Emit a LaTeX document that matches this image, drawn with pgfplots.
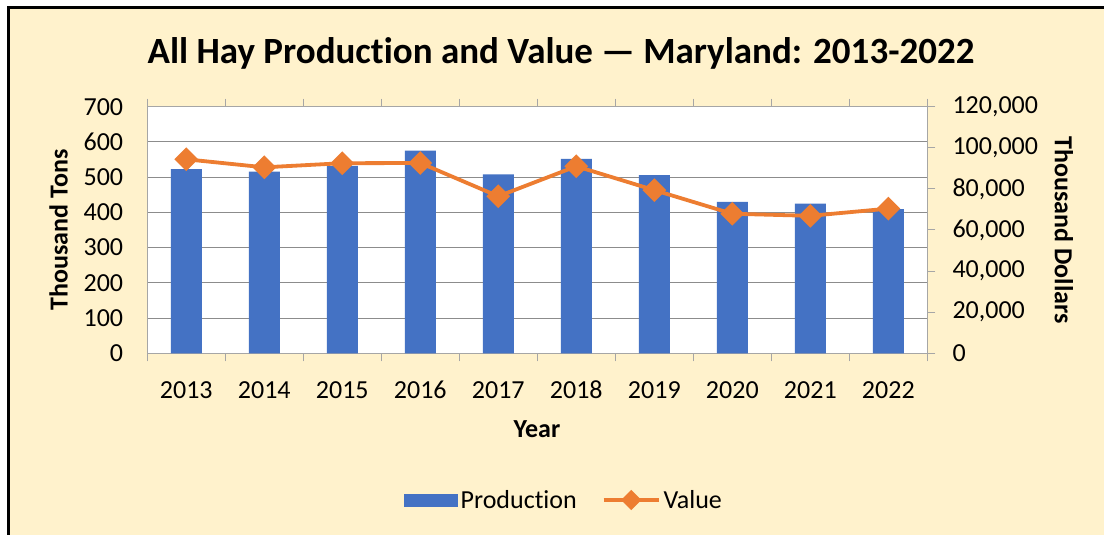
\documentclass[border=0pt]{standalone}
\usepackage{fontspec}
\setmainfont{Carlito}[Ligatures=NoCommon]
\usepackage{pgfplots}
\pgfplotsset{compat=1.18}
\definecolor{cream}{HTML}{FFF2CC}
\definecolor{barblue}{HTML}{4472C4}
\definecolor{valorange}{HTML}{ED7D31}
\definecolor{gridgray}{HTML}{8C8C8C}
\definecolor{axisgray}{HTML}{A6A6A6}
\newcommand{\lblfont}{\fontsize{26bp}{31bp}\selectfont}

\begin{document}
\begin{tikzpicture}
\path[use as bounding box] (0,0) rectangle (1104bp,535bp);
\fill[white] (0,0) rectangle (1104bp,535bp);
\fill[cream] (8bp,0) rectangle (1104bp,527bp);
\draw[black,line width=3bp] (8bp,0) -- (8bp,527bp) -- (1104bp,527bp);

% production (left axis)
\begin{axis}[
  at={(147.3bp,181.7bp)}, anchor=south west,
  width=780bp, height=246.6bp, scale only axis,
  xmin=-0.5, xmax=9.5, ymin=0, ymax=700,
  axis background/.style={fill=white},
  axis line style={axisgray,line width=1bp},
  ytick={0,100,...,700}, ymajorgrids,
  major grid style={gridgray,line width=1bp},
  xtick={0,...,9},
  xticklabels={2013,2014,2015,2016,2017,2018,2019,2020,2021,2022},
  minor xtick={-0.5,0.5,1.5,2.5,3.5,4.5,5.5,6.5,7.5,8.5,9.5},
  major tick length=0pt, minor tick length=8bp, tick align=outside,
  minor tick style={axisgray,line width=1bp},
  tick label style={font=\lblfont},
  /pgf/number format/assume math mode=true,
  xticklabel style={anchor=north,inner sep=0pt,yshift=-27.7bp},
  yticklabel style={anchor=east,inner sep=0pt,xshift=-24bp},
]
\addplot[ybar, bar width=31bp, fill=barblue, draw=none] coordinates {
  (0,523) (1,516) (2,532) (3,575) (4,508)
  (5,552) (6,506) (7,430) (8,425) (9,409)};
\end{axis}

% value (right axis)
\begin{axis}[
  at={(147.3bp,181.7bp)}, anchor=south west,
  width=780bp, height=246.6bp, scale only axis,
  xmin=-0.5, xmax=9.5, ymin=0, ymax=120000,
  axis x line=none, axis y line*=right,
  axis line style={axisgray,line width=1bp},
  ytick={0,20000,...,120000}, scaled y ticks=false,
  major tick length=8bp, tick align=outside,
  major tick style={axisgray,line width=1bp},
  tick label style={font=\lblfont},
  yticklabel style={/pgf/number format/.cd, fixed, precision=0, 1000 sep={,},
    assume math mode=true, /tikz/.cd, anchor=west, inner sep=0pt, xshift=17bp},
  legend columns=2,
  legend style={at={(0.535,-0.595)}, anchor=center, draw=none, fill=none,
    font=\lblfont, nodes={inner xsep=3bp,inner ysep=0pt},
    /tikz/every even column/.append style={column sep=22bp}},
]
\addlegendimage{legend image code/.code={\fill[barblue] (0bp,-6bp) rectangle (53bp,6bp);}}
\addlegendentry{Production}
\addplot[valorange, line width=3.8bp, mark=square*, mark size=6.5bp,
  mark options={rotate=45,solid,fill=valorange},
  legend image code/.code={
    \draw[valorange,line width=3.8bp] (0bp,0bp) -- (55bp,0bp);
    \fill[valorange] (20bp,0bp) -- (27.5bp,7.5bp) -- (35bp,0bp) -- (27.5bp,-7.5bp) -- cycle;}]
  coordinates {
  (0,94400) (1,90500) (2,92500) (3,92600) (4,76400)
  (5,91000) (6,79400) (7,67900) (8,66900) (9,70400)};
\addlegendentry{Value}
\end{axis}

\node[font=\bfseries\fontsize{37bp}{44bp}\selectfont, anchor=base] at (561bp,471bp)
  {All Hay Production and Value — Maryland: 2013-2022};
\node[font=\bfseries\lblfont, rotate=90] at (58.7bp,305bp) {Thousand Tons};
\node[font=\bfseries\lblfont, rotate=-90] at (1064bp,305bp) {Thousand Dollars};
\node[font=\bfseries\lblfont] at (537bp,106bp) {Year};
\end{tikzpicture}
\end{document}
